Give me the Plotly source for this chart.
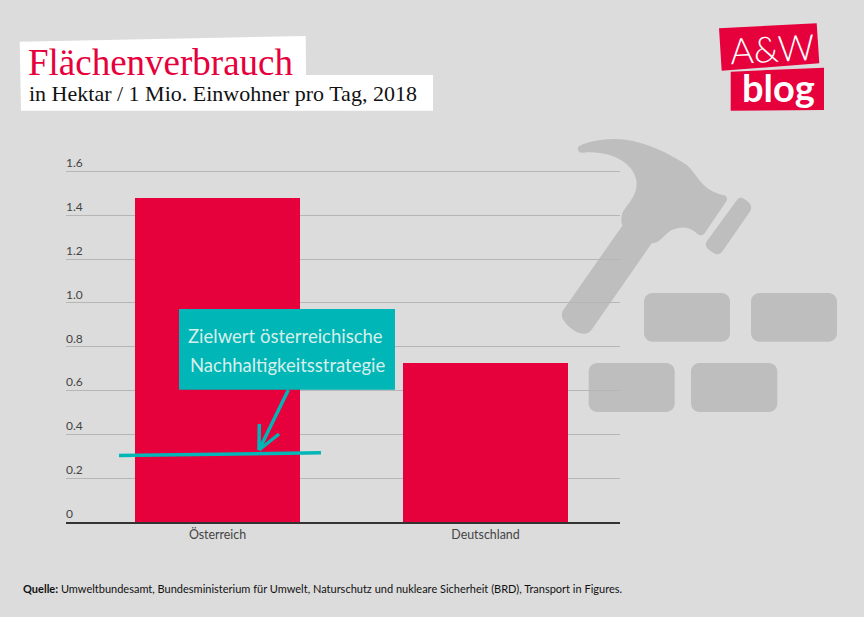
import plotly.graph_objects as go

# ---- data
categories = ["Österreich", "Deutschland"]
values = [1.479, 0.726]
tick_values = [0, 0.2, 0.4, 0.6, 0.8, 1.0, 1.2, 1.4, 1.6]
tick_labels = ["0", "0.2", "0.4", "0.6", "0.8", "1.0", "1.2", "1.4", "1.6"]
target_x = [-0.3675, 0.386]
target_y = [0.304, 0.316]

RED = "#e6003c"
TEAL = "#00b6b6"
BG = "#dcdcdc"
ICON = "#bebebe"
GRID = "#b6b6b6"
BODY = "Lato"

W, H = 864, 617
Y_TOP = 1.68
L, R, T, B = 66, 620, 154, 522


def px(x):
    return (x - L) / (R - L)


def py(y):
    return (B - y) / (B - T)


def pt(x, y):
    return f"{px(x):.5f},{py(y):.5f}"


def poly(points):
    return "M" + " L".join(pt(x, y) for x, y in points) + " Z"


def rrect(x0, y0, x1, y1, r):
    k = r * 0.45
    return (
        f"M{pt(x0 + r, y0)} L{pt(x1 - r, y0)} C{pt(x1 - k, y0)} {pt(x1, y0 + k)} {pt(x1, y0 + r)} "
        f"L{pt(x1, y1 - r)} C{pt(x1, y1 - k)} {pt(x1 - k, y1)} {pt(x1 - r, y1)} "
        f"L{pt(x0 + r, y1)} C{pt(x0 + k, y1)} {pt(x0, y1 - k)} {pt(x0, y1 - r)} "
        f"L{pt(x0, y0 + r)} C{pt(x0, y0 + k)} {pt(x0 + k, y0)} {pt(x0 + r, y0)} Z"
    )


def crop(p):
    return (550 + p[0] / 3, 130 + p[1] / 3)


def curve(start, segs):
    """Path from zoom-crop coordinates: 1 point = line, 3 points = cubic."""
    d = "M" + pt(*crop(start))
    for s in segs:
        if len(s) == 1:
            d += " L" + pt(*crop(s[0]))
        else:
            d += " C" + " ".join(pt(*crop(q)) for q in s)
    return d + " Z"


hammer = curve((88, 48), [
    [(110, 36), (150, 27), (195, 27)],
    [(265, 27), (345, 62), (410, 105)],
    [(440, 128), (450, 180), (522, 196)],
    [(530, 198), (534, 207), (529, 214)],
    [(465, 308)],
    [(458, 318), (447, 318), (440, 310)],
    [(420, 290), (395, 288), (365, 300)],
    [(340, 315), (330, 340), (305, 340)],
    [(130, 592)],
    [(118, 612), (105, 615), (85, 608)],
    [(65, 600), (50, 585), (40, 570)],
    [(33, 558), (35, 548), (40, 540)],
    [(217, 287)],
    [(212, 270), (213, 255), (222, 240)],
    [(245, 210), (260, 190), (260, 160)],
    [(258, 105), (190, 60), (100, 68)],
    [(82, 70), (80, 52), (88, 48)],
])
plate = curve((563, 207), [
    [(570, 201), (576, 203), (582, 206)],
    [(595, 215), (610, 225), (601, 243)],
    [(520, 360)],
    [(512, 373), (503, 375), (495, 371)],
    [(485, 366), (475, 360), (470, 352)],
    [(466, 344), (467, 339), (471, 333)],
])

shape_list = []


def add_path(path, color, layer="below"):
    shape_list.append(dict(type="path", xref="paper", yref="paper", path=path,
                           fillcolor=color, line=dict(width=0), layer=layer))


add_path(hammer, ICON)
add_path(plate, ICON)
for box in [(644, 293, 730, 341.7), (751, 293, 837, 341.7),
            (588.7, 363, 674.7, 412), (691, 363, 777.3, 412)]:
    add_path(rrect(*box, 8.5), ICON)

# title plates and logo
add_path(poly([(19.7, 41.7), (305.7, 36), (306, 75), (433, 75), (433, 110.7), (21, 110.7)]), "white", "above")
add_path(poly([(719, 28.3), (816.7, 23.3), (819.3, 63.3), (721.7, 70.7)]), RED, "above")
add_path(poly([(730.7, 71.7), (824, 67.7), (824, 110), (730.7, 110.7)]), RED, "above")

# call-out box and arrow
add_path(poly([(179, 309), (395, 309), (395, 389.7), (179, 389.7)]), TEAL, "above")
for a, b in [((288.3, 390), (259, 450)), ((259.3, 424), (259, 450)), ((279, 434), (259, 450))]:
    shape_list.append(dict(type="line", xref="paper", yref="paper",
                           x0=px(a[0]), y0=py(a[1]), x1=px(b[0]), y1=py(b[1]),
                           line=dict(color=TEAL, width=3.5), layer="above"))


def text(x, y, s, size, color, font=BODY, anchor="left", angle=0):
    return dict(xref="paper", yref="paper", x=px(x), y=py(y), text=s, showarrow=False,
                xanchor=anchor, yanchor="middle", textangle=angle,
                font=dict(family=font, size=size, color=color))


annotations = [
    text(26, 62, "Flächenverbrauch", 37, RED, "Liberation Serif"),
    text(27, 94, "in Hektar / 1 Mio. Einwohner pro Tag, 2018", 22, "#111111", "Liberation Serif"),
    text(772, 48, "A&amp;W", 36, "white", "Lato Light, Lato", "center", -3),
    text(778, 86.5, "<b>blog</b>", 38, "white", "Lato", "center"),
    text(285, 336, "Zielwert österreichische", 18.5, "#d6efec", BODY, "center"),
    text(287.5, 365, "Nachhaltigkeitsstrategie", 18.5, "#d6efec", BODY, "center"),
    text(21, 588.5, "<b>Quelle:</b> Umweltbundesamt, Bundesministerium für Umwelt, Naturschutz und nukleare "
                    "Sicherheit (BRD), Transport in Figures.", 11, "#111111"),
]

fig = go.Figure()
fig.add_bar(x=[0, 1], y=values, width=165 / 268, marker=dict(color=RED, line=dict(width=0)),
            hoverinfo="skip")
fig.add_scatter(x=target_x, y=target_y, mode="lines", line=dict(color=TEAL, width=3.5),
                hoverinfo="skip")
fig.update_layout(
    width=W, height=H, autosize=False, showlegend=False,
    margin=dict(l=L, r=W - R, t=T, b=H - B, pad=0),
    paper_bgcolor=BG, plot_bgcolor="rgba(0,0,0,0)",
    shapes=shape_list, annotations=annotations,
    xaxis=dict(range=[-151.5 / 268, 1 + 134.5 / 268], tickmode="array", tickvals=[0, 1],
               ticktext=categories, showgrid=False, zeroline=False, showline=True,
               linecolor="#333333", linewidth=2, ticks="", ticklen=0,
               tickfont=dict(family=BODY, size=12.4, color="#444444")),
    yaxis=dict(range=[0, Y_TOP], tickmode="array", tickvals=tick_values, ticktext=tick_labels,
               showgrid=True, gridcolor=GRID, gridwidth=1, zeroline=False, showline=False,
               ticks="", ticklabelposition="inside top", ticklabelstandoff=-3,
               tickfont=dict(family=BODY, size=12, color="#444444")),
)
fig.write_html("out.html", config={"displayModeBar": False},
               post_script="document.body.style.margin='0';")
